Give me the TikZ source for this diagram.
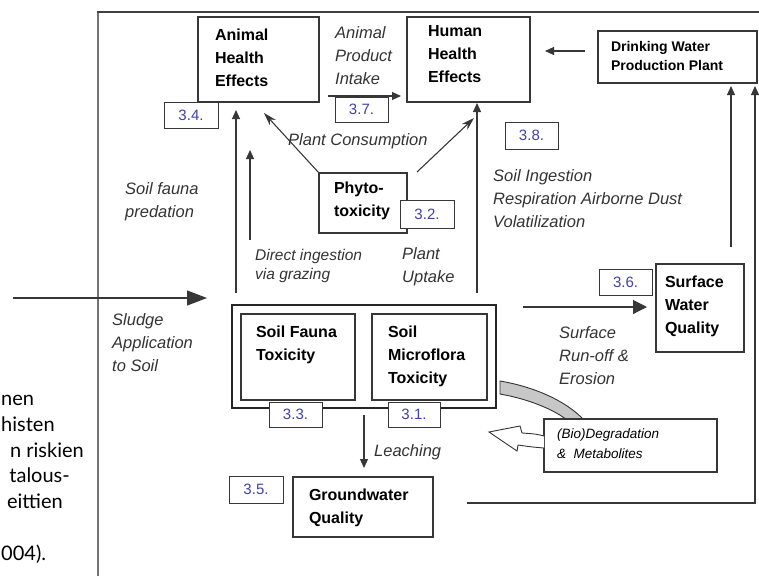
\documentclass[tikz,border=0pt]{standalone}
\usepackage{fontspec}
\setmainfont{Liberation Sans}
\newfontfamily\fragfont{Lato}
\usetikzlibrary{arrows.meta}

\definecolor{numblue}{RGB}{64,64,170}
\definecolor{edgegray}{RGB}{55,55,55}
\newcommand{\boxtext}[3]{\parbox[c][#2pt][t]{#1pt}{\raggedright #3}}

\begin{document}
\begin{tikzpicture}[x=1pt,y=-1pt]
        \useasboundingbox (0,0) rectangle (759,576);

        % text of the page beside the figure
        \begin{scope}[every node/.style={anchor=base east,inner sep=0,font=\fragfont\fontsize{20}{26}\selectfont}]
          \node[anchor=base west] (f1) at (1,405) {nen};
          \node[anchor=base west] (f2) at (1,431) {histen};
          \node (f3) at (84,457) {n riskien};
          \node (f4) at (70,482) {talous-};
          \node (f5) at (63,508) {eittien};
          \node[anchor=base west] (f6) at (1,560) {004).};
        \end{scope}

        % frame
        \draw[black!55,line width=1.6pt] (98,576) -- (98,12);
        \draw[black!75,line width=2.6pt] (97,12) -- (759,12);

        % flow between the effects
        \begin{scope}[every edge/.style={draw,edgegray,line width=1.1pt,-{Triangle[length=9pt,width=8pt]}}]
          \coordinate (pred0) at (236,293);
          \coordinate (pred1) at (236,110);
          \coordinate (graze0) at (250,240);
          \coordinate (graze1) at (250,150);
          \coordinate (up0) at (477,293);
          \coordinate (up1) at (477,103);
          \coordinate (prod0) at (328,96);
          \coordinate (prod1) at (401,96);
          \coordinate (drink0) at (585,51);
          \coordinate (drink1) at (545,51);
          \coordinate (sw0) at (731,247);
          \coordinate (sw1) at (731,86);
          \coordinate (gw0) at (467,503);
          \coordinate (gw1) at (755,503);
          \coordinate (gw2) at (755,86);
          \coordinate (leach0) at (364,415);
          \coordinate (leach1) at (364,468);
          \coordinate (cons1) at (264,113);
          \coordinate (cons2) at (417,172);
          \coordinate (cons3) at (474,118);
          \coordinate (sludge0) at (13,298);
          \coordinate (sludge1) at (207,298);
          \coordinate (run0) at (523,307);
          \coordinate (run1) at (647,307);

          \path (pred0)  edge (pred1);
          \path (graze0) edge (graze1);
          \path (up0)    edge (up1);
          \path (prod0)  edge (prod1);
          \path (drink0) edge (drink1);
          \path (sw0)    edge (sw1);
          \path (leach0) edge (leach1);
          \draw[edgegray,line width=1.1pt,-{Triangle[length=9pt,width=8pt]}] (gw0) -- (gw1) -- (gw2);
          \path (cons2)  edge[-{Stealth[length=13pt,width=8pt]}] (cons3);
          \path (sludge0) edge[-{Triangle[length=20pt,width=15pt]}] (sludge1);
          \path (run0)   edge[-{Triangle[length=14pt,width=14pt]}] (run1);
        \end{scope}

        % degradation band
        \draw[black!80,fill=black!22,line width=0.9pt]
          (500,381) .. controls (535,387) and (566,401) .. (584,420)
          -- (567,420) .. controls (553,409) and (528,399) .. (500,394) -- cycle;

        \begin{scope}[every node/.style={draw=edgegray,line width=1.1pt,fill=white,anchor=north west,outer sep=0pt,font=\bfseries\fontsize{16}{23}\selectfont}]
          \node[inner xsep=17pt,inner ysep=12pt] (animal) at (198,17) {\boxtext{87}{61}{Animal\\Health\\Effects}};
          \node[inner xsep=21pt,inner ysep=8pt] (human) at (407,17) {\boxtext{81}{69}{Human\\Health\\Effects}};
          \node[inner xsep=13pt,inner ysep=10pt,font=\bfseries\fontsize{14}{19}\selectfont] (drink) at (598,31) {\boxtext{133}{32}{Drinking Water\\Production Plant}};
          \node[inner xsep=15pt,inner ysep=9pt] (phyto) at (319,173) {\boxtext{58}{42}{Phyto-\\toxicity}};
          \node[line width=2.6pt,draw=black!85,minimum width=264pt,minimum height=103pt,inner sep=0pt] (soil) at (232,305) {};
          \node[inner xsep=15pt,inner ysep=12pt] (fauna) at (241,314) {\boxtext{84}{62}{Soil Fauna\\Toxicity}};
          \node[inner xsep=16pt,inner ysep=12pt] (micro) at (372,314) {\boxtext{83}{62}{Soil\\Microflora\\Toxicity}};
          \node[inner xsep=9pt,inner ysep=12pt] (surface) at (656,264) {\boxtext{70}{64}{Surface\\Water\\Quality}};
          \node[inner xsep=16pt,inner ysep=12pt] (ground) at (293,477) {\boxtext{108}{36}{Groundwater\\Quality}};
          \node[inner xsep=13pt,inner ysep=10pt,font=\itshape\fontsize{13.5}{20}\selectfont] (bio) at (544,419) {\boxtext{147}{33}{(Bio)Degradation\\\& \ Metabolites}};
        \end{scope}

        % plant consumption from the phytotoxicity box
        \draw[edgegray,line width=1.1pt,-{Stealth[length=13pt,width=8pt]}] (phyto.north west) -- (cons1);

        % open arrow back to the soil
        \draw[black!80,fill=white,line width=0.9pt]
          (bio.west |- 0,436) .. controls (536,434) .. (522,433) -- (520,426) -- (489,432)
          -- (517,451) -- (518,445) .. controls (532,447) .. (bio.west |- 0,448);

        % chapter numbers
        \begin{scope}[every node/.style={draw=edgegray,line width=1pt,fill=white,text=numblue,anchor=north west,outer sep=0pt,inner sep=0pt,font=\fontsize{15}{18}\selectfont}]
          \node[minimum width=54pt,minimum height=26pt] (n34) at (164,102) {3.4.};
          \node[minimum width=53pt,minimum height=25pt] (n37) at (335,97) {3.7.};
          \node[minimum width=53pt,minimum height=27pt] (n38) at (505,122) {3.8.};
          \node[minimum width=54pt,minimum height=28pt] (n32) at (400,200) {3.2.};
          \node[minimum width=53pt,minimum height=25pt] (n33) at (269,402) {3.3.};
          \node[minimum width=52pt,minimum height=25pt] (n31) at (388,402) {3.1.};
          \node[minimum width=54pt,minimum height=27pt] (n35) at (229,476) {3.5.};
          \node[minimum width=53pt,minimum height=26pt] (n36) at (599,269) {3.6.};
        \end{scope}

        % pathway labels
        \begin{scope}[every node/.style={anchor=north west,inner sep=0pt,align=left,text=black!80,font=\itshape\fontsize{16.5}{23}\selectfont}]
          \node (lprod) at (335,26) {Animal\\Product\\Intake};
          \node (lcons) at (288,133) {Plant Consumption};
          \node (lpred) at (125,182) {Soil fauna\\predation};
          \node[font=\itshape\fontsize{15.5}{19}\selectfont] (lgraze) at (255,249) {Direct ingestion\\via grazing};
          \node (luptake) at (402,247) {Plant\\Uptake};
          \node (lsoil) at (493,169) {Soil Ingestion\\Respiration Airborne Dust\\Volatilization};
          \node (lsludge) at (112,313) {Sludge\\Application\\to Soil};
          \node (lrun) at (559,326) {Surface\\Run-off \&\\Erosion};
          \node (lleach) at (374,444) {Leaching};
        \end{scope}

      \end{tikzpicture}
\end{document}
